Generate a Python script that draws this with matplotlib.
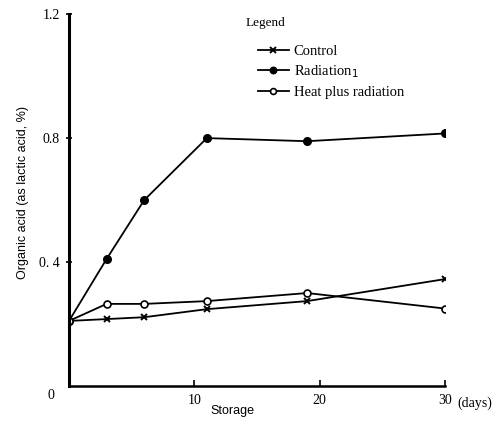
import matplotlib
matplotlib.use('Agg')
import matplotlib.pyplot as plt

# storage time (days) and organic acid content (% as lactic acid)
days = [0, 3, 6, 11, 19, 30]
control = [0.21, 0.216, 0.222, 0.248, 0.274, 0.345]
radiation = [0.21, 0.41, 0.60, 0.80, 0.79, 0.815]
heat_radiation = [0.21, 0.265, 0.265, 0.274, 0.30, 0.25]

y_ticks = [0.4, 0.8, 1.2]
y_tick_labels = ['0. 4', '0.8', '1.2']
x_ticks = [10, 20, 30]
x_tick_labels = ['10', '20', '30']

serif = 'Liberation Serif'
sans = 'Liberation Sans'

fig = plt.figure(figsize=(5.0, 4.24), dpi=100)
ax = fig.add_axes([0.138, 0.0896, 0.752, 0.877])

ax.plot(days, control, color='black', lw=1.3, marker='x', ms=4.5, mew=1.4,
        label='Control')
ax.plot(days, radiation, color='black', lw=1.3, marker='o', ms=5.5,
        mfc='black', label='Radiation$_1$')
ax.plot(days, heat_radiation, color='black', lw=1.3, marker='o', ms=5,
        mfc='white', mew=1.2, label='Heat plus radiation')

ax.set_xlim(0, 30)
ax.set_ylim(0, 1.2)
ax.spines['top'].set_visible(False)
ax.spines['right'].set_visible(False)
ax.spines['left'].set_linewidth(2.2)
ax.spines['bottom'].set_linewidth(1.8)

ax.set_xticks(x_ticks)
ax.set_xticklabels(x_tick_labels, family=serif, fontsize=10)
ax.set_yticks(y_ticks)
ax.set_yticklabels(y_tick_labels, family=serif, fontsize=10)
ax.tick_params(axis='x', direction='in', length=4, width=1.2, pad=6)
ax.tick_params(axis='y', direction='inout', length=5, width=1.2, pad=4)

ax.text(-1.2, -0.03, '0', family=serif, fontsize=10, ha='right', va='center')
ax.text(31.0, -0.055, '(days)', family=serif, fontsize=10, ha='left', va='center')
ax.set_xlabel('Storage', family=sans, fontsize=9, labelpad=-2, x=0.434)
ax.set_ylabel('Organic acid (as lactic acid, %)', family=sans, fontsize=9,
              labelpad=7, y=0.52)

fig.text(0.492, 0.946, 'Legend', family=serif, fontsize=9.5, ha='left', va='center')
ax.legend(loc='upper left', bbox_to_anchor=(0.487, 0.932), frameon=False,
          prop={'family': serif, 'size': 10.5}, handlelength=2.1,
          handletextpad=0.35, labelspacing=0.35, borderaxespad=0,
          markerscale=0.85)

fig.savefig('out.png', dpi=100)
